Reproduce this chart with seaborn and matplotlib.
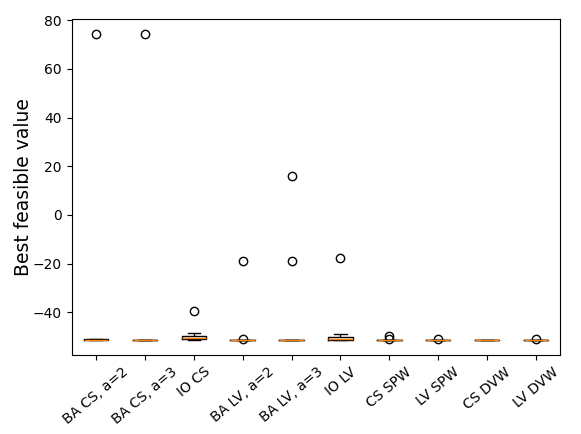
import matplotlib
matplotlib.use("Agg")
import matplotlib.pyplot as plt
import seaborn as sns
import pandas as pd

categories = ["BA CS, a=2", "BA CS, a=3", "IO CS", "BA LV, a=2", "BA LV, a=3",
              "IO LV", "CS SPW", "LV SPW", "CS DVW", "LV DVW"]

ba_cs_a2 = [-51.3, -51.3, -51.3, -51.3, -51.3, -51.2, -51.1, -51.1, -51.0, 74.2]
ba_cs_a3 = [-51.3, -51.3, -51.3, -51.3, -51.3, -51.3, -51.3, -51.3, -51.3, 74.2]
io_cs = [-51.3, -51.3, -51.2, -51.1, -50.7, -50.5, -50.0, -49.8, -48.7, -39.6]
ba_lv_a2 = [-51.3, -51.3, -51.3, -51.3, -51.3, -51.3, -51.3, -51.3, -51.0, -18.8]
ba_lv_a3 = [-51.3, -51.3, -51.3, -51.3, -51.3, -51.3, -51.3, -51.3, -18.8, 16.0]
io_lv = [-51.3, -51.3, -51.3, -51.2, -51.1, -50.9, -50.5, -50.1, -48.8, -17.9]
cs_spw = [-51.3, -51.3, -51.3, -51.3, -51.3, -51.3, -51.3, -51.3, -51.0, -49.7]
lv_spw = [-51.3, -51.3, -51.3, -51.3, -51.3, -51.3, -51.3, -51.3, -51.3, -51.0]
cs_dvw = [-51.3, -51.3, -51.3, -51.3, -51.3, -51.3, -51.3, -51.3, -51.3, -51.3]
lv_dvw = [-51.3, -51.3, -51.3, -51.3, -51.3, -51.3, -51.3, -51.3, -51.3, -51.0]

series = [ba_cs_a2, ba_cs_a3, io_cs, ba_lv_a2, ba_lv_a3, io_lv, cs_spw, lv_spw, cs_dvw, lv_dvw]

rows = []
for cat, vals in zip(categories, series):
    for v in vals:
        rows.append({"method": cat, "value": v})
df = pd.DataFrame(rows)

fig = plt.figure(figsize=(5.81, 4.34), dpi=100)
ax = fig.add_axes([0.1234, 0.182, 0.841, 0.774])

sns.boxplot(data=df, x="method", y="value", order=categories, ax=ax,
            fill=False, color="black", width=0.5, linecolor="black", linewidth=1.0,
            whis=1.5,
            boxprops={"color": "black"},
            whiskerprops={"color": "black"},
            capprops={"color": "black"},
            medianprops={"color": "#ff7f0e", "linewidth": 1.0},
            flierprops={"marker": "o", "markerfacecolor": "none",
                        "markeredgecolor": "black", "markersize": 6})

ax.set_xlabel("")
ax.set_ylabel("Best feasible value", fontsize=13.5, labelpad=0)
ax.tick_params(axis="x", labelrotation=40, labelsize=10)
ax.tick_params(axis="y", labelsize=10)
for lab in ax.get_xticklabels():
    lab.set_ha("center")
ax.set_yticks([-40, -20, 0, 20, 40, 60, 80])
ax.set_xlim(-0.5, 9.5)
for s in ax.spines.values():
    s.set_visible(True)

fig.savefig("out.png", dpi=100)
